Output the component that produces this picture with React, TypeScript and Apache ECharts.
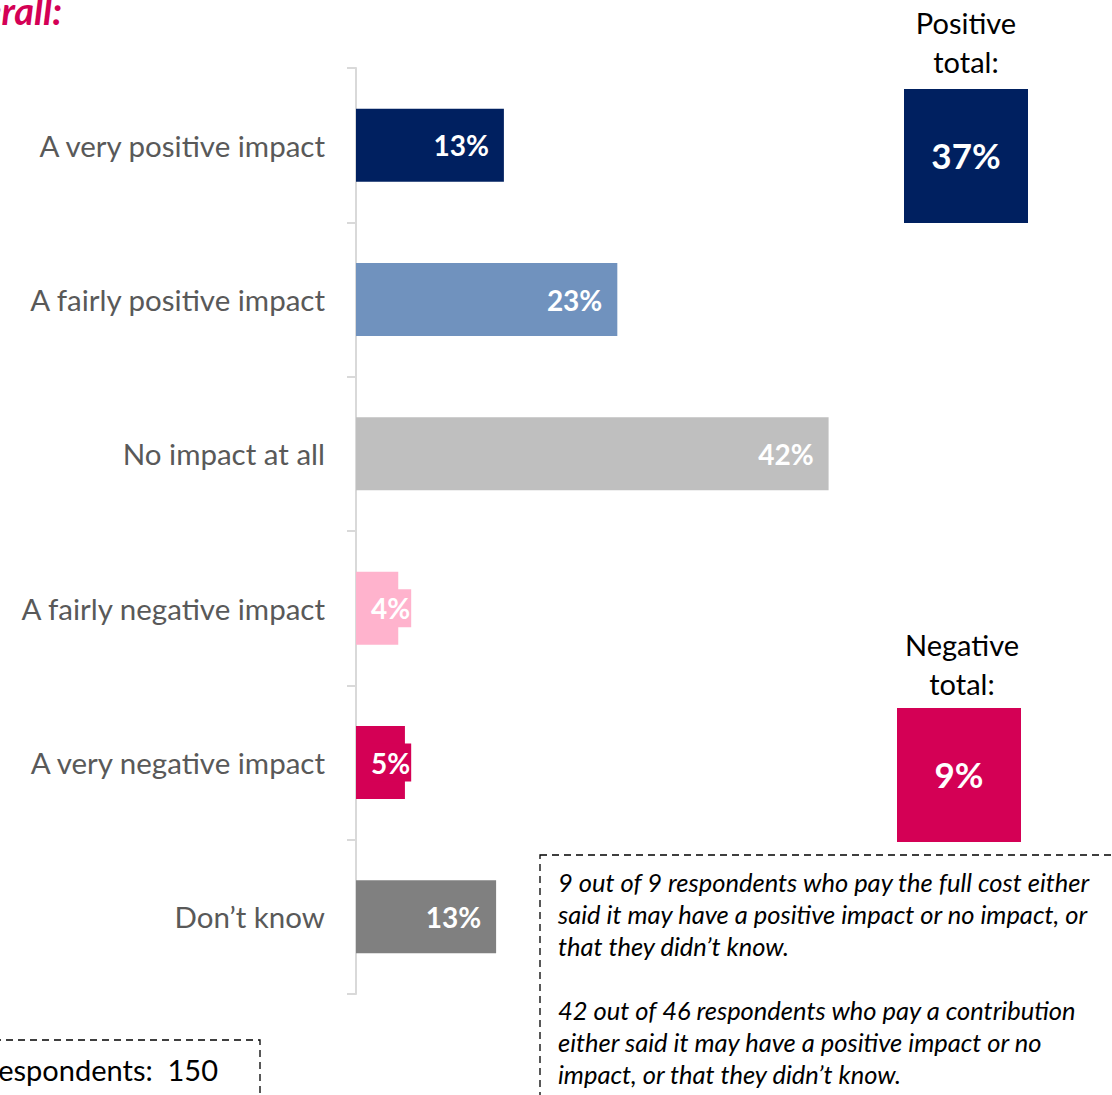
import React, { useEffect, useRef } from "react";
import * as echarts from "echarts";

const categories = [
  "A very positive impact",
  "A fairly positive impact",
  "No impact at all",
  "A fairly negative impact",
  "A very negative impact",
  "Don\u2019t know",
];
const values = [13.3, 23.5, 42.5, 3.8, 4.4, 12.6];
const valueLabels = ["13%", "23%", "42%", "4%", "5%", "13%"];
const barColors = ["#002060", "#7092BE", "#BFBFBF", "#FFB3CD", "#D40055", "#808080"];
const totalTitles = [["Positive", "total:"], ["Negative", "total:"]];
const totalValues = ["37%", "9%"];
const noteLines = [
  "9 out of 9 respondents who pay the full cost either",
  "said it may have a positive impact or no impact, or",
  "that they didn\u2019t know.",
  "",
  "42 out of 46 respondents who pay a contribution",
  "either said it may have a positive impact or no",
  "impact, or that they didn\u2019t know.",
];
const baseText = "Respondents:  150";
const titleText = "Overall:";

const FONT = "Lato, 'Open Sans', sans-serif";

export default function App() {
  const ref = useRef<HTMLDivElement>(null);
  useEffect(() => {
    if (!ref.current) return;
    const chart = echarts.init(ref.current, undefined, { renderer: "svg" });
    const data = values.map((v, i) => {
      const small = v < 8;
      return {
        value: v,
        itemStyle: { color: barColors[i] },
        label: small
          ? {
              position: "insideLeft",
              distance: 14,
              backgroundColor: barColors[i],
              padding: [6, 1, 4, 1],
            }
          : { position: "insideRight", distance: 15 },
      };
    });
    const graphics: any[] = [
      {
        type: "text",
        x: 62,
        y: 10,
        style: {
          text: titleText,
          fill: "#D40055",
          font: `italic bold 38px ${FONT}`,
          textAlign: "right",
          textVerticalAlign: "middle",
        },
      },
    ];
    const boxes = [
      { cx: 966, ty: 22, rx: 904, ry: 89, color: "#002060" },
      { cx: 962, ty: 644, rx: 897, ry: 708, color: "#D40055" },
    ];
    boxes.forEach((b, k) => {
      totalTitles[k].forEach((t, j) => {
        graphics.push({
          type: "text",
          x: b.cx,
          y: b.ty + j * 39,
          style: {
            text: t,
            fill: "#000",
            font: `29px ${FONT}`,
            textAlign: "center",
            textVerticalAlign: "middle",
          },
        });
      });
      graphics.push({
        type: "rect",
        shape: { x: b.rx, y: b.ry, width: 124, height: 134 },
        style: { fill: b.color },
      });
      graphics.push({
        type: "text",
        x: b.rx + 62,
        y: b.ry + 66,
        style: {
          text: totalValues[k],
          fill: "#fff",
          font: `bold 35px ${FONT}`,
          textAlign: "center",
          textVerticalAlign: "middle",
        },
      });
    });
    graphics.push({
      type: "rect",
      shape: { x: 540, y: 855, width: 620, height: 300 },
      style: { fill: "none", stroke: "#000", lineWidth: 1.3, lineDash: [7, 5] },
    });
    noteLines.forEach((l, i) => {
      if (!l) return;
      graphics.push({
        type: "text",
        x: 558,
        y: 882 + i * 32,
        style: {
          text: l,
          fill: "#000",
          font: `italic 25.5px ${FONT}`,
          textAlign: "left",
          textVerticalAlign: "middle",
        },
      });
    });
    graphics.push({
      type: "rect",
      shape: { x: -30, y: 1040, width: 290, height: 120 },
      style: { fill: "none", stroke: "#000", lineWidth: 1.3, lineDash: [7, 5] },
    });
    graphics.push({
      type: "text",
      x: 218,
      y: 1069,
      style: {
        text: baseText,
        fill: "#000",
        font: `29px ${FONT}`,
        textAlign: "right",
        textVerticalAlign: "middle",
      },
    });

    chart.setOption({
      animation: false,
      grid: { left: 356, top: 68, bottom: 101, width: 556 },
      xAxis: { type: "value", min: 0, max: 50, show: false },
      yAxis: {
        type: "category",
        inverse: true,
        data: categories,
        axisLine: { show: true, lineStyle: { color: "#D9D9D9", width: 2 } },
        axisTick: { show: true, length: 9, lineStyle: { color: "#D9D9D9", width: 2 } },
        axisLabel: { margin: 31, color: "#595959", fontSize: 29.5, fontFamily: FONT },
      },
      series: [
        {
          type: "bar",
          data,
          barWidth: 73,
          label: {
            show: true,
            color: "#fff",
            fontWeight: "bold",
            fontSize: 28,
            fontFamily: FONT,
            formatter: (p: any) => valueLabels[p.dataIndex],
          },
        },
      ],
      graphic: graphics,
    });
    return () => chart.dispose();
  }, []);
  return (
    <div
      ref={ref}
      style={{ position: "fixed", left: 0, top: 0, width: 1112, height: 1095, background: "#fff" }}
    />
  );
}
